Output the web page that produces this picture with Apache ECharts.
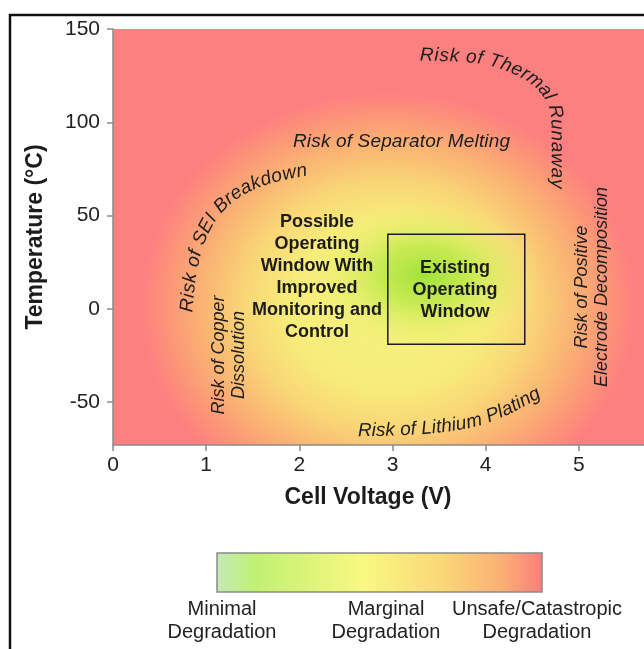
<!DOCTYPE html>
<html>
<head>
<meta charset="utf-8">
<script src="https://cdn.jsdelivr.net/npm/echarts@6/dist/echarts.min.js"></script>
<style>
  html, body { margin: 0; padding: 0; background: #fff; }
  #chart { width: 644px; height: 649px; }
</style>
</head>
<body>
<div id="chart"></div>
<script>
const voltageTicks = [0, 1, 2, 3, 4, 5];
const temperatureTicks = [-50, 0, 50, 100, 150];

// degradation zones: [centre V, centre °C, half width V, half height °C]
const degradationZones = [
  [2.95, 2, 2.65, 114],
  [3.35, 18, 1.25, 40]
];

// existing operating window: [V min, °C max, V max, °C min]
const existingWindow = [[2.95, 40, 4.42, -19]];

// text following a curve from first to last point, path in (V, °C)
const curvedLabels = [
  { text: 'Risk of Thermal Runaway', path: [[3.295, 136.0], [3.832, 134.9], [4.154, 131.7], [4.444, 125.3], [4.637, 117.3], [4.745, 106.6], [4.766, 90.5], [4.766, 64.5]] },
  { text: 'Risk of Separator Melting', path: [[1.932, 89.4], [4.262, 89.4]] },
  { text: 'Risk of SEI Breakdown', path: [[0.794, -1.7], [0.837, 18.1], [0.923, 35.3], [1.084, 50.8], [1.342, 62.6], [1.685, 70.1], [2.082, 74.4]] },
  { text: 'Risk of Lithium Plating', path: [[2.630, -65.5], [3.081, -65.0], [3.510, -63.4], [3.886, -60.2], [4.208, -54.3], [4.541, -45.6]] }
];

// text blocks anchored at their centre (V, °C)
const blockLabels = [
  { text: 'Possible\nOperating\nWindow With\nImproved\nMonitoring and\nControl', at: [2.19, 17.0], kind: 'bold' },
  { text: 'Existing\nOperating\nWindow', at: [3.671, 10.1], kind: 'bold' },
  { text: 'Risk of Copper\nDissolution', at: [1.245, -24.8], kind: 'vertical' },
  { text: 'Risk of Positive\nElectrode Decomposition', at: [5.142, 11.7], kind: 'vertical' }
];

const legendLabels = ['Minimal\nDegradation', 'Marginal\nDegradation', 'Unsafe/Catastropic\nDegradation'];

const FAMILY = '"Liberation Sans", Arial, Helvetica, sans-serif';
const CURVE_FONT = 'italic 19px ' + FAMILY;
const ITALIC_FONT = 'italic 18px ' + FAMILY;
const BOLD_FONT = 'bold 18px ' + FAMILY;
const TEXT_COLOR = '#1c1c1c';

const zoneStops = [
  [
    { offset: 0, color: '#f3f27c' },
    { offset: 0.4, color: '#f7ec7a' },
    { offset: 0.58, color: '#f9d677' },
    { offset: 0.75, color: '#fab473' },
    { offset: 0.9, color: '#fc9478' },
    { offset: 1, color: '#fd8080' }
  ],
  [
    { offset: 0, color: 'rgba(160,226,58,1)' },
    { offset: 0.4, color: 'rgba(188,233,72,0.78)' },
    { offset: 1, color: 'rgba(242,242,120,0)' }
  ]
];

const legendStops = [
  { offset: 0, color: '#c6e9b8' },
  { offset: 0.12, color: '#c0f172' },
  { offset: 0.45, color: '#f9f880' },
  { offset: 0.7, color: '#fad678' },
  { offset: 0.88, color: '#fbae74' },
  { offset: 1, color: '#fc7c7c' }
];

const measureCtx = document.createElement('canvas').getContext('2d');

function catmull(points, steps) {
  const out = [];
  const n = points.length;
  for (let i = 0; i < n - 1; i++) {
    const p0 = points[Math.max(i - 1, 0)], p1 = points[i], p2 = points[i + 1], p3 = points[Math.min(i + 2, n - 1)];
    for (let k = 0; k < steps; k++) {
      const t = k / steps, t2 = t * t, t3 = t2 * t;
      out.push([0, 1].map(j => 0.5 * (2 * p1[j] + (-p0[j] + p2[j]) * t +
        (2 * p0[j] - 5 * p1[j] + 4 * p2[j] - p3[j]) * t2 +
        (-p0[j] + 3 * p1[j] - 3 * p2[j] + p3[j]) * t3)));
    }
  }
  out.push(points[n - 1]);
  return out;
}

function pointAlong(pts, cum, s) {
  let i = 1;
  while (i < pts.length - 1 && cum[i] < s) i++;
  const a = pts[i - 1], b = pts[i];
  const seg = cum[i] - cum[i - 1] || 1;
  const t = (s - cum[i - 1]) / seg;
  return [a[0] + (b[0] - a[0]) * t, a[1] + (b[1] - a[1]) * t, Math.atan2(b[1] - a[1], b[0] - a[0])];
}

function renderZone(params, api) {
  const c = api.coord([api.value(0), api.value(1)]);
  const s = api.size([api.value(2), api.value(3)]);
  const cs = params.coordSys;
  const R = 100;
  return {
    type: 'group',
    clipPath: { type: 'rect', shape: { x: cs.x, y: cs.y, width: cs.width, height: cs.height } },
    children: [{
      type: 'circle',
      x: c[0], y: c[1],
      scaleX: s[0] / R, scaleY: s[1] / R,
      shape: { cx: 0, cy: 0, r: R },
      style: { fill: { type: 'radial', x: 0.5, y: 0.5, r: 0.5, colorStops: zoneStops[params.dataIndex] } },
      silent: true
    }]
  };
}

function renderWindow(params, api) {
  const a = api.coord([api.value(0), api.value(1)]);
  const b = api.coord([api.value(2), api.value(3)]);
  return {
    type: 'rect',
    shape: { x: a[0], y: a[1], width: b[0] - a[0], height: b[1] - a[1] },
    style: { fill: 'none', stroke: '#1c1c1c', lineWidth: 1.5 }
  };
}

// letters spread evenly so the text runs from the first to the last point
function renderCurved(params, api) {
  const lab = curvedLabels[params.dataIndex];
  const pts = catmull(lab.path.map(p => api.coord(p)), 16);
  const cum = [0];
  for (let i = 1; i < pts.length; i++) {
    cum.push(cum[i - 1] + Math.hypot(pts[i][0] - pts[i - 1][0], pts[i][1] - pts[i - 1][1]));
  }
  measureCtx.font = CURVE_FONT;
  const chars = Array.from(lab.text);
  const widths = chars.map(ch => measureCtx.measureText(ch).width);
  const textLen = widths.reduce((a, b) => a + b, 0);
  const gap = Math.max(0, (cum[cum.length - 1] - textLen) / (chars.length - 1));
  const children = [];
  let s = 0;
  chars.forEach((ch, i) => {
    const w = widths[i];
    const p = pointAlong(pts, cum, s + w / 2);
    if (ch !== ' ') {
      children.push({
        type: 'text', x: p[0], y: p[1], rotation: -p[2], silent: true,
        style: { text: ch, font: CURVE_FONT, fill: TEXT_COLOR, align: 'center', verticalAlign: 'middle', textAlign: 'center', textVerticalAlign: 'middle' }
      });
    }
    s += w + gap;
  });
  return { type: 'group', children };
}

function renderBlock(params, api) {
  const lab = blockLabels[params.dataIndex];
  const c = api.coord(lab.at);
  const bold = lab.kind === 'bold';
  return {
    type: 'text', x: c[0], y: c[1], rotation: bold ? 0 : Math.PI / 2, silent: true,
    style: {
      text: lab.text, font: bold ? BOLD_FONT : ITALIC_FONT, lineHeight: bold ? 22 : 20, fill: TEXT_COLOR,
      align: 'center', verticalAlign: 'middle', textAlign: 'center', textVerticalAlign: 'middle'
    }
  };
}

const legendX = [222, 386, 537];

const chart = echarts.init(document.getElementById('chart'), null, { renderer: 'canvas' });

const option = {
  backgroundColor: '#fff',
  animation: false,
  grid: { left: 113, right: 0, top: 29, bottom: 204, show: true, backgroundColor: '#fd8080', borderWidth: 0 },
  xAxis: {
    type: 'value', min: 0, max: 5.7, z: 10,
    name: 'Cell Voltage (V)', nameLocation: 'middle', nameGap: 41,
    nameTextStyle: { fontFamily: FAMILY, fontWeight: 'bold', fontSize: 23, color: '#1c1c1c', padding: [0, 21, 0, 0] },
    axisLine: { show: true, onZero: false, lineStyle: { color: '#8a8a8a', width: 1.5 } },
    axisTick: { show: true, length: 6, customValues: voltageTicks, lineStyle: { color: '#8a8a8a', width: 1.5 } },
    axisLabel: { customValues: voltageTicks, fontFamily: FAMILY, fontSize: 21, color: '#222', margin: 10 },
    splitLine: { show: false }
  },
  yAxis: {
    type: 'value', min: -73, max: 150, z: 10,
    name: 'Temperature (°C)', nameLocation: 'middle', nameGap: 66, nameRotate: 90,
    nameTextStyle: { fontFamily: FAMILY, fontWeight: 'bold', fontSize: 23, color: '#1c1c1c' },
    axisLine: { show: true, onZero: false, lineStyle: { color: '#8a8a8a', width: 1.5 } },
    axisTick: { show: true, length: 6, customValues: temperatureTicks, lineStyle: { color: '#8a8a8a', width: 1.5 } },
    axisLabel: { customValues: temperatureTicks, fontFamily: FAMILY, fontSize: 21, color: '#222', margin: 13 },
    splitLine: { show: false }
  },
  series: [
    {
      type: 'custom', name: 'zones', z: 1, silent: true,
      renderItem: renderZone,
      encode: { x: [0, 2], y: [1, 3] },
      data: degradationZones
    },
    {
      type: 'custom', name: 'existing window', z: 3, silent: true,
      renderItem: renderWindow,
      encode: { x: [0, 2], y: [1, 3] },
      data: existingWindow
    },
    {
      type: 'custom', name: 'curved labels', z: 4, silent: true,
      renderItem: renderCurved,
      encode: { x: 0, y: 1 },
      data: curvedLabels.map(l => l.path[0])
    },
    {
      type: 'custom', name: 'block labels', z: 4, silent: true,
      renderItem: renderBlock,
      encode: { x: 0, y: 1 },
      data: blockLabels.map(l => l.at)
    }
  ],
  graphic: [
    { type: 'rect', silent: true, shape: { x: 10, y: 15, width: 800, height: 800 }, style: { fill: 'none', stroke: '#111', lineWidth: 2.5 } },
    {
      type: 'rect', silent: true, shape: { x: 217, y: 553, width: 325, height: 39 },
      style: { fill: { type: 'linear', x: 0, y: 0, x2: 1, y2: 0, colorStops: legendStops }, stroke: '#8a8a8a', lineWidth: 1.5 }
    }
  ].concat(legendLabels.map((t, i) => ({
    type: 'text', silent: true, x: legendX[i], y: 621,
    style: { text: t, font: '20px ' + FAMILY, lineHeight: 23, fill: '#222', align: 'center', verticalAlign: 'middle', textAlign: 'center', textVerticalAlign: 'middle' }
  })))
};

chart.setOption(option);
</script>
</body>
</html>
